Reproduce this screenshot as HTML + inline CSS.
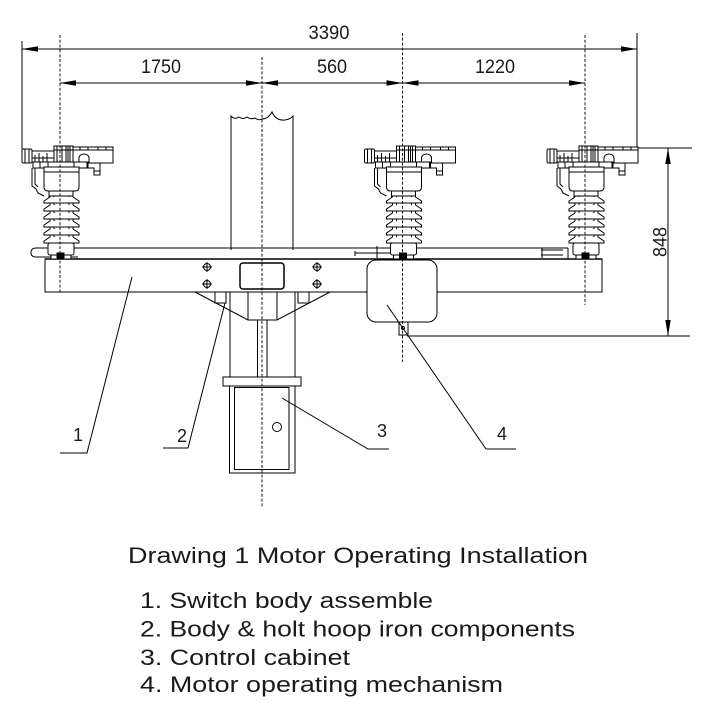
<!DOCTYPE html>
<html>
<head>
<meta charset="utf-8">
<style>
html,body{margin:0;padding:0;background:#fff;}
svg{display:block;}
text{font-family:"Liberation Sans",Arial,sans-serif;fill:#1a1a1a;}
</style>
</head>
<body>
<svg width="710" height="710" viewBox="0 0 710 710" xmlns="http://www.w3.org/2000/svg">
<defs>
<g id="ins" stroke="#000" stroke-width="1" fill="#fff">
  <rect x="-38" y="149" width="10" height="14" rx="1.5"/>
  <path d="M-35 149v14 M-31 149v14" fill="none"/>
  <rect x="-28" y="151" width="22" height="11"/>
  <path d="M-25 155v7 M-21 153v9 M-17 156v6 M-13 153v9 M-28 158h22" fill="none"/>
  <rect x="-6" y="146" width="19" height="16"/>
  <path d="M-3 146v16 M2 146v16 M6 146v16 M8 146v16 M10 146v16 M-6 150h19" fill="none"/>
  <rect x="13" y="147" width="40" height="16"/>
  <path d="M13 150h40 M20 147v3 M28 147v3 M38 147v3 M46 147v3" fill="none"/>
  <path d="M19 162 v-4 a5 4 0 0 1 10 0 v4 z"/>
  <path d="M28 163 h12 v8 h-6 v-3 h-6 z"/>
  <path d="M34 171 v4 h6 v-4" fill="none"/>
  <rect x="-27" y="162" width="54" height="6"/>
  <path d="M-20 162v6 M-12 162v6 M14 162v6" fill="none"/>
  <path d="M-16 167 h35 v20 q0 4 -4 4 h-27 q-4 0 -4 -4 z"/>
  <path d="M-16 172 h35" fill="none"/>
  <path d="M-28 168 v18 l4 3 l2 4 l6 3" fill="none"/>
  <path d="M-25 168 v16 l3 3" fill="none"/>
  <rect x="-11" y="191" width="24" height="6"/>
  <rect x="-10" y="196" width="23" height="48"/>
  <path d="M-6 196v48 M9 196v48" fill="none"/>
  <path d="M-10 197 L-16 201 L-16 203 L19 203 L19 201 L13 197"/>
  <path d="M-10 205 L-16 209 L-16 211 L19 211 L19 209 L13 205"/>
  <path d="M-10 213 L-16 217 L-16 219 L19 219 L19 217 L13 213"/>
  <path d="M-10 221 L-16 225 L-16 227 L19 227 L19 225 L13 221"/>
  <path d="M-10 229 L-16 233 L-16 235 L19 235 L19 233 L13 229"/>
  <path d="M-10 237 L-16 241 L-16 243 L19 243 L19 241 L13 237"/>
  <rect x="-12" y="243" width="26" height="12" rx="2"/>
  <rect x="-9" y="255" width="20" height="4"/>
  <rect x="-3" y="253" width="7" height="5" fill="#000"/>
</g>
<g id="bolt" stroke="#000" stroke-width="1" fill="none">
  <circle cx="0" cy="0" r="3.5"/>
  <path d="M-5 0h10 M0 -5v10"/>
</g>
</defs>

<g stroke="#000" stroke-width="1" fill="none">
  <line x1="22" y1="41" x2="22" y2="149"/>
  <line x1="637" y1="33" x2="637" y2="148"/>
  <line x1="22" y1="49" x2="637" y2="49"/>
  <line x1="60" y1="83" x2="585" y2="83"/>
  <line x1="637" y1="148" x2="692" y2="148"/>
  <line x1="407" y1="336" x2="690" y2="336"/>
  <line x1="668" y1="148" x2="668" y2="336"/>
</g>
<g fill="#000" stroke="none">
  <polygon points="22,49 38,46.3 38,51.7"/>
  <polygon points="637,49 621,46.3 621,51.7"/>
  <polygon points="60,83 76,80.3 76,85.7"/>
  <polygon points="262,83 246,80.3 246,85.7"/>
  <polygon points="262,83 278,80.3 278,85.7"/>
  <polygon points="402.5,83 386.5,80.3 386.5,85.7"/>
  <polygon points="402.5,83 418.5,80.3 418.5,85.7"/>
  <polygon points="585,83 569,80.3 569,85.7"/>
  <polygon points="668,148 665.3,164 670.7,164"/>
  <polygon points="668,336 665.3,320 670.7,320"/>
</g>

<text x="329" y="39" font-size="19.5" text-anchor="middle" textLength="41" lengthAdjust="spacingAndGlyphs">3390</text>
<text x="161" y="73" font-size="19.5" text-anchor="middle" textLength="40" lengthAdjust="spacingAndGlyphs">1750</text>
<text x="332" y="73" font-size="19.5" text-anchor="middle" textLength="30" lengthAdjust="spacingAndGlyphs">560</text>
<text x="495" y="73" font-size="19.5" text-anchor="middle" textLength="40" lengthAdjust="spacingAndGlyphs">1220</text>
<text x="0" y="0" font-size="19.5" text-anchor="middle" textLength="30" lengthAdjust="spacingAndGlyphs" transform="translate(666.5 242) rotate(-90)">848</text>

<g stroke="#000" stroke-width="1" fill="#fff">
  <path d="M231 250 V116 Q235 120 239 117 Q243 120 247 117 Q251 120 255 118 Q259 121 262 119 Q268 119 272 112 Q276 121 285 120 Q291 119 293 116 V250" />
  <line x1="230" y1="292" x2="230" y2="386"/>
  <line x1="295" y1="292" x2="295" y2="386"/>
  <line x1="257.5" y1="320" x2="257.5" y2="377"/>
  <line x1="267" y1="320" x2="267" y2="377"/>
  <path d="M195 292 L248 320 H277 L330 292" fill="none"/>
  <path d="M248 292 V320 M277 292 V320" fill="none"/>
  <rect x="215" y="292" width="11" height="11" fill="none"/>
  <rect x="298" y="292" width="11" height="11" fill="none"/>
  <rect x="223" y="377" width="78" height="9"/>
  <rect x="229.5" y="386" width="65.5" height="87"/>
  <rect x="234.5" y="387.5" width="54.5" height="82"/>
  <circle cx="277" cy="427" r="4.5"/>
  <rect x="45" y="259" width="557" height="33"/>
  <line x1="45" y1="259" x2="602" y2="259" stroke-width="1.6"/>
  <path d="M45 248 H36 Q31 248 31 252.5 Q31 257 36 257 H45" />
  <line x1="45" y1="248" x2="568" y2="248"/>
  <line x1="45" y1="257" x2="78" y2="257"/>
  <path d="M355 253 H390 M377 246 V258 M355 251 V256" fill="none"/>
  <path d="M541 250 H563 M542 248 V258 M541 255 H563" fill="none"/>
  <path d="M568 248 V259" fill="none"/>
  <rect x="240" y="263" width="44" height="26" rx="3" stroke-width="1.5"/>
</g>

<use href="#bolt" x="207" y="267"/>
<use href="#bolt" x="207" y="284"/>
<use href="#bolt" x="317" y="267"/>
<use href="#bolt" x="317" y="284"/>

<use href="#ins" x="60" y="0"/>
<use href="#ins" x="402.5" y="0"/>
<use href="#ins" x="585" y="0"/>

<g stroke="#000" stroke-width="1" fill="#fff">
  <rect x="367" y="260" width="70" height="62" rx="9"/>
  <rect x="399" y="322" width="9" height="13"/>
  <circle cx="403" cy="328" r="1.5"/>
</g>

<g stroke="#000" stroke-width="0.9" stroke-dasharray="3 1.8" fill="none">
  <line x1="60" y1="35" x2="60" y2="292"/>
  <line x1="262" y1="57" x2="262" y2="507"/>
  <line x1="402.5" y1="33" x2="402.5" y2="362"/>
  <line x1="585" y1="35" x2="585" y2="305"/>
</g>

<g stroke="#000" stroke-width="1" fill="none">
  <path d="M132 277 L87 453 H60"/>
  <path d="M225 303 L188 448 H163"/>
  <path d="M282 398 L368 449 H389"/>
  <path d="M387 305 L486 449 H516"/>
</g>
<text x="78" y="441" font-size="18" text-anchor="middle">1</text>
<text x="182" y="442" font-size="18" text-anchor="middle">2</text>
<text x="382" y="437" font-size="18" text-anchor="middle">3</text>
<text x="502" y="440" font-size="18" text-anchor="middle">4</text>

<text x="128" y="563" font-size="22" textLength="460" lengthAdjust="spacingAndGlyphs">Drawing 1 Motor Operating Installation</text>
<text x="140" y="608" font-size="22" textLength="293" lengthAdjust="spacingAndGlyphs">1. Switch body assemble</text>
<text x="140" y="636.5" font-size="22" textLength="435" lengthAdjust="spacingAndGlyphs">2. Body &amp; holt hoop iron components</text>
<text x="140" y="665" font-size="22" textLength="210" lengthAdjust="spacingAndGlyphs">3. Control cabinet</text>
<text x="140" y="692" font-size="22" textLength="363" lengthAdjust="spacingAndGlyphs">4. Motor operating mechanism</text>
</svg>
</body>
</html>
